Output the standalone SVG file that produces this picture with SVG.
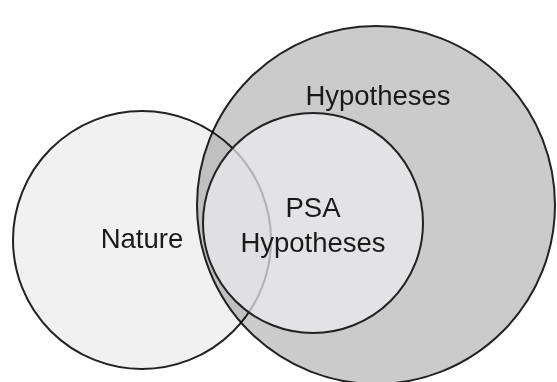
<svg xmlns="http://www.w3.org/2000/svg" width="557" height="382" viewBox="0 0 557 382">
<style>
.ring{stroke:#222;stroke-width:2}
.lbl{font-family:"Liberation Sans",Arial,sans-serif;font-size:27.5px;fill:#1a1a1a;text-anchor:middle}
</style>
<rect width="557" height="382" fill="#fff"/>
<g id="nature">
<circle class="ring" cx="142" cy="240" r="129" fill="#f1f1f1"/>
<text class="lbl" x="142" y="248">Nature</text>
</g>
<g id="hypotheses">
<circle class="ring" cx="376" cy="205" r="179" fill="#cbcbcc" style="mix-blend-mode:multiply"/>
<text class="lbl" x="378" y="105">Hypotheses</text>
</g>
<g id="psa-hypotheses">
<circle class="ring" cx="313" cy="223" r="110" fill="#ececee" fill-opacity="0.72"/>
<text class="lbl" x="313" y="217">PSA</text>
<text class="lbl" x="313" y="252">Hypotheses</text>
</g>
</svg>
